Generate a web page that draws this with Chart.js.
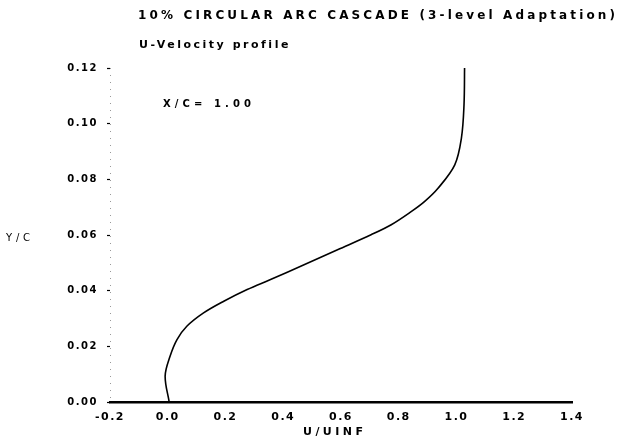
<!DOCTYPE html>
<html><head><meta charset="utf-8">
<script src="https://cdn.jsdelivr.net/npm/chart.js@4/dist/chart.umd.min.js"></script>
<style>html,body{margin:0;padding:0;background:#fff;overflow:hidden}canvas{display:block}</style>
</head><body>
<canvas id="c" width="633" height="443"></canvas>
<script>
const titleText = "10% CIRCULAR ARC CASCADE (3-level Adaptation)";
const subtitleText = "U-Velocity profile";
const annotationText = "X/C= 1.00";
const xAxisLabel = "U/UINF";
const yAxisLabel = "Y/C";

const uValues = [0.005, -0.009, 0.008, 0.032, 0.066, 0.124, 0.194, 0.275, 0.356, 0.472, 0.588, 0.704, 0.774, 0.843, 0.889, 0.936, 0.994, 1.017, 1.026, 1.028];
const yValues = [0.0, 0.0093, 0.0164, 0.0224, 0.0272, 0.0320, 0.0362, 0.0404, 0.0440, 0.0493, 0.0547, 0.0601, 0.0637, 0.0684, 0.0720, 0.0768, 0.0852, 0.0948, 0.1067, 0.1205];

const xTickValues = [-0.2, 0.0, 0.2, 0.4, 0.6, 0.8, 1.0, 1.2, 1.4];
const yTickValues = [0.00, 0.02, 0.04, 0.06, 0.08, 0.10, 0.12];

const points = uValues.map((u, i) => ({x: u, y: yValues[i]}));
const FONT = "'DejaVu Sans', sans-serif";

function drawFit(ctx, text, x, y, width, font, align) {
  ctx.save();
  ctx.font = font;
  ctx.letterSpacing = '0px';
  const w0 = ctx.measureText(text).width;
  const sp = text.length > 1 ? (width - w0) / (text.length - 1) : 0;
  ctx.letterSpacing = sp + 'px';
  ctx.textBaseline = 'middle';
  ctx.textAlign = 'left';
  ctx.fillStyle = '#000';
  let sx = x;
  if (align === 'center') sx = x - width / 2;
  ctx.fillText(text, sx, y);
  ctx.restore();
}

const textPlugin = {
  id: 'texts',
  beforeDraw(chart) { chart.ctx.letterSpacing = '1.5px'; },
  afterDraw(chart) {
    const ctx = chart.ctx;
    const ys = chart.scales.y;
    ctx.save();
    ctx.strokeStyle = '#999';
    ctx.lineWidth = 1;
    ctx.setLineDash([1, 6]);
    ctx.beginPath();
    ctx.moveTo(ys.right + 0.5, ys.top);
    ctx.lineTo(ys.right + 0.5, ys.bottom);
    ctx.stroke();
    ctx.restore();
    drawFit(ctx, titleText, 138, 16, 477, "bold 12px " + FONT);
    drawFit(ctx, subtitleText, 139, 45, 149, "bold 11px " + FONT);
    drawFit(ctx, annotationText, 163, 104, 88, "bold 10px " + FONT);
    drawFit(ctx, yAxisLabel, 6, 238, 24, "10px " + FONT);
    drawFit(ctx, xAxisLabel, 333, 432, 60, "bold 11px " + FONT, 'center');
  }
};

new Chart(document.getElementById('c'), {
  type: 'scatter',
  data: {
    datasets: [{
      data: points,
      showLine: true,
      borderColor: '#000',
      borderWidth: 1.6,
      pointRadius: 0,
      tension: 0.35,
      fill: false
    }]
  },
  options: {
    responsive: false,
    animation: false,
    devicePixelRatio: 1,
    layout: {padding: {top: 68, right: 61, left: 0, bottom: 0}},
    plugins: {legend: {display: false}, title: {display: false}, tooltip: {enabled: false}},
    scales: {
      x: {
        type: 'linear', min: -0.2, max: 1.4,
        afterBuildTicks: s => { s.ticks = xTickValues.map(v => ({value: v})); },
        afterFit: s => { s.height = 41; },
        ticks: {callback: v => Number(v).toFixed(1), color: '#000', font: {family: FONT, weight: 'bold', size: 11}, padding: 9, maxRotation: 0, autoSkip: false},
        grid: {display: true, drawOnChartArea: false, drawTicks: false, color: 'rgba(0,0,0,0)'},
        border: {display: true, color: '#000', width: 2.5}
      },
      y: {
        type: 'linear', min: 0, max: 0.12,
        afterBuildTicks: s => { s.ticks = yTickValues.map(v => ({value: v})); },
        afterFit: s => { s.width = 110; },
        ticks: {callback: v => Number(v).toFixed(2), color: '#000', font: {family: FONT, weight: 'bold', size: 10}, padding: 9},
        grid: {display: true, drawOnChartArea: false, drawTicks: true, tickLength: 3, color: '#000', tickColor: '#000', tickWidth: 1.2},
        border: {display: false}
      }
    }
  },
  plugins: [textPlugin]
});
</script>
</body></html>
